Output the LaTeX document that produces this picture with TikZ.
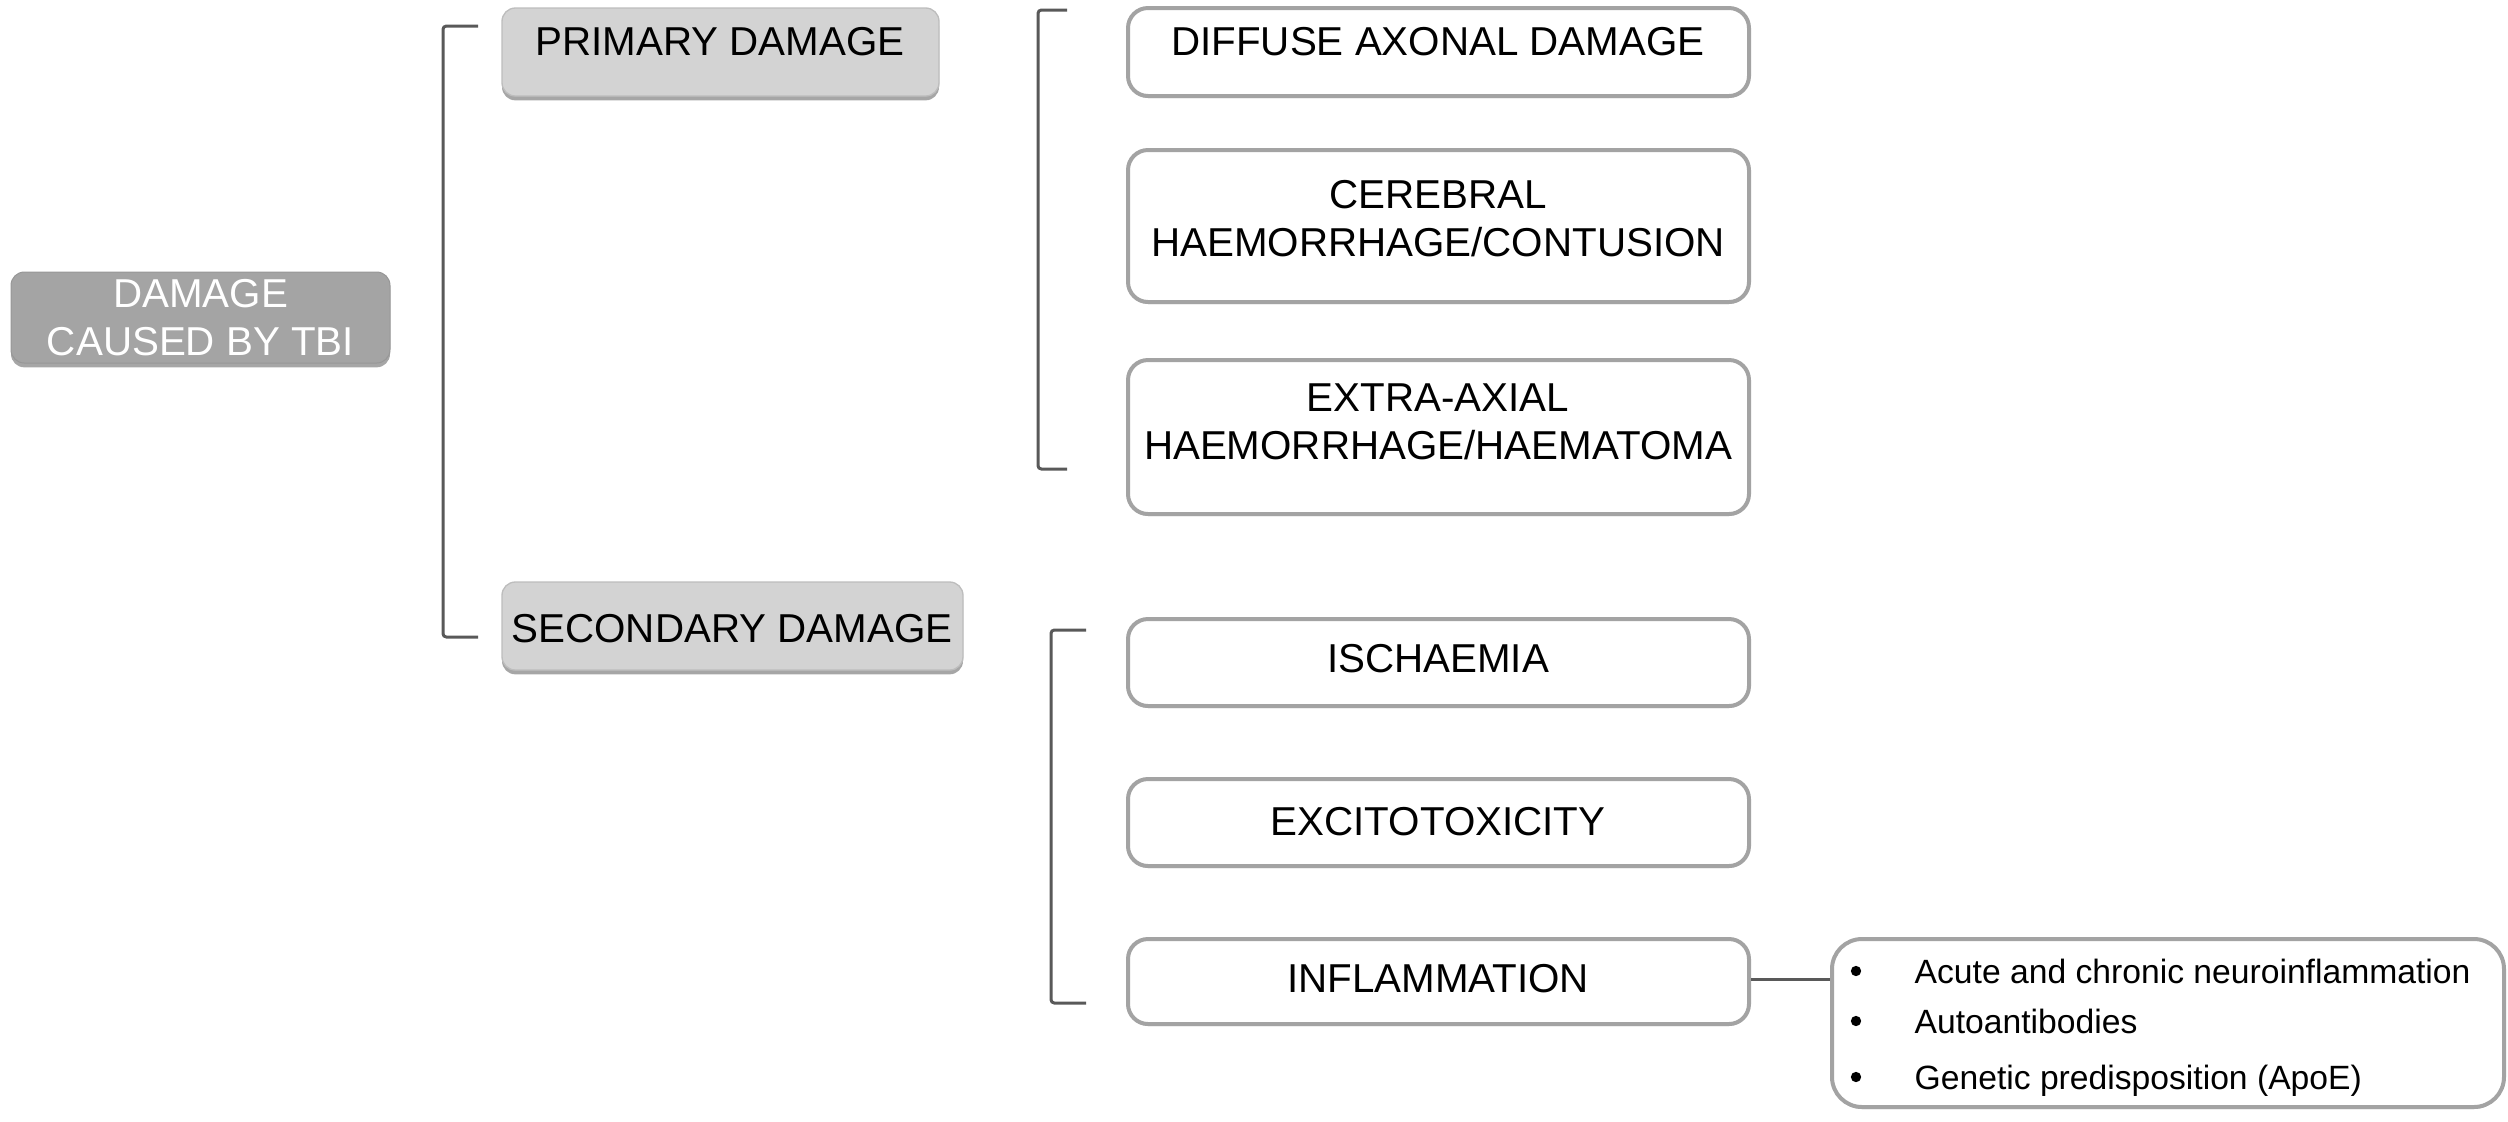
\documentclass[tikz,border=0pt]{standalone}
\usepackage{fontspec}
\setmainfont{Liberation Sans}
\usetikzlibrary{shadows}
\definecolor{rootfill}{HTML}{A4A4A4}
\definecolor{lightfill}{HTML}{D3D3D3}
\definecolor{lightedge}{HTML}{BDBDBD}
\definecolor{boxedge}{HTML}{A3A3A3}
\definecolor{lineclr}{HTML}{595959}
\tikzset{
  px/.style 2 args={minimum width=#1*0.3pt, minimum height=#2*0.3pt},
  rootbox/.style={rectangle, rounded corners=4pt, fill=rootfill, draw=rootfill!92!black, line width=0.3pt,
    drop shadow={shadow xshift=0pt, shadow yshift=-1.3pt, opacity=0.35, fill=black}, inner sep=0pt},
  greybox/.style={rectangle, rounded corners=4pt, fill=lightfill, draw=lightedge, line width=0.4pt,
    drop shadow={shadow xshift=0pt, shadow yshift=-1.3pt, opacity=0.35, fill=black}, inner sep=0pt},
  whitebox/.style={rectangle, rounded corners=6pt, fill=white, draw=boxedge, line width=1.2pt,
    drop shadow={shadow xshift=0pt, shadow yshift=-0.6pt, opacity=0.2, fill=black}, inner sep=0pt},
  listbox/.style={whitebox, rounded corners=9pt},
  maintext/.style={font=\fontsize{12.1}{14.4}\selectfont, align=center, inner sep=0pt},
  listtext/.style={font=\fontsize{10.1}{12}\selectfont, anchor=west, inner sep=0pt, text height=0.72em, text depth=0pt},
  bulletdot/.style={circle, fill=black, inner sep=0pt, minimum size=3.1pt},
  bracket/.style={draw=lineclr, line width=0.9pt, rounded corners=1pt},
  link/.style={draw=lineclr, line width=0.9pt},
}
\begin{document}
\begin{tikzpicture}[x=0.3pt, y=-0.3pt]
\useasboundingbox (0,0) rectangle (2508,1121);

% root
\node[rootbox, px={379}{91}, maintext, text=white] (root) at (200.5,317.5) {DAMAGE\\CAUSED BY TBI};

% level 1
\node[greybox, px={437}{88}] (bprim) at (720.5,52) {};
\node[maintext] (tprim) at (720,42) {PRIMARY DAMAGE};
\node[greybox, px={461}{88}] (bsec) at (732.5,626) {};
\node[maintext] (tsec) at (732,629) {SECONDARY DAMAGE};

% level 2 - primary
\node[whitebox, px={621}{88}] (bdiff) at (1438.5,52) {};
\node[maintext] (tdiff) at (1438,42) {DIFFUSE AXONAL DAMAGE};
\node[whitebox, px={621}{152}] (bcer) at (1438.5,226) {};
\node[maintext] (tcer) at (1438,219) {CEREBRAL\\HAEMORRHAGE/CONTUSION};
\node[whitebox, px={621}{154}] (bext) at (1438.5,437) {};
\node[maintext] (text) at (1438,422) {EXTRA-AXIAL\\HAEMORRHAGE/HAEMATOMA};

% level 2 - secondary
\node[whitebox, px={621}{87}] (bisc) at (1438.5,662.5) {};
\node[maintext] (tisc) at (1438,659) {ISCHAEMIA};
\node[whitebox, px={621}{87}] (bexc) at (1438.5,822.5) {};
\node[maintext] (texc) at (1438,822) {EXCITOTOXICITY};
\node[whitebox, px={621}{85}] (binf) at (1438.5,981.5) {};
\node[maintext] (tinf) at (1438,979) {INFLAMMATION};

% list box
\node[listbox, px={672}{168}] (blist) at (2168,1023) {};
\node[bulletdot] (bu1) at (1856,971) {};
\node[bulletdot] (bu2) at (1856,1021) {};
\node[bulletdot] (bu3) at (1856,1077) {};
\node[listtext] (l1) at (1914,971) {Acute and chronic neuroinflammation};
\node[listtext] (l2) at (1914,1021) {Autoantibodies};
\node[listtext] (l3) at (1914,1077) {Genetic predisposition (ApoE)};

% connector
\draw[link] (binf.east |- tinf) -- (blist.west |- tinf);

% brackets
\coordinate (k1a) at (478,26);
\coordinate (k1b) at (478,637);
\draw[bracket] (k1a) -- (443,26) -- (443,637) -- (k1b);
\coordinate (k2a) at (1067,10);
\coordinate (k2b) at (1067,469);
\draw[bracket] (k2a) -- (1038,10) -- (1038,469) -- (k2b);
\coordinate (k3a) at (1086,630);
\coordinate (k3b) at (1086,1003);
\draw[bracket] (k3a) -- (1051,630) -- (1051,1003) -- (k3b);
\end{tikzpicture}
\end{document}
